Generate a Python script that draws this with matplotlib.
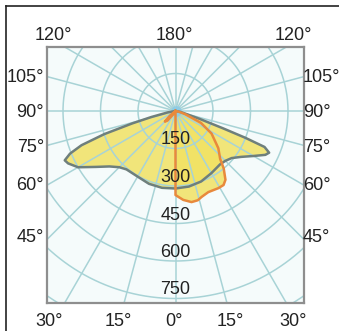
import numpy as np
import matplotlib.pyplot as plt
from matplotlib.lines import Line2D
plt.rcParams['font.family'] = ['Liberation Sans', 'DejaVu Sans']

# C0-C180 plane (grey outline), gamma in degrees (negative = left), intensity cd
gamma_c0 = [-90, -80, -76, -74, -72, -70, -68, -66, -64, -60, -55, -50, -45, -40, -30,
            -20, -10, 0, 10, 20, 30, 40, 45, 50, 55, 60, 64, 66, 68, 69, 70, 72, 80, 90]
cd_c0 = [0, 30, 100, 180, 300, 400, 455, 485, 478, 450, 390, 345, 318, 305, 303,
         310, 312, 310, 307, 300, 287, 278, 282, 293, 320, 360, 400, 410, 384, 300, 200, 100, 20, 0]

# C90-C270 plane (orange outline)
gamma_c90 = [-90, -60, -50, -45, -40, -30, -10, -1, 0, 2, 5, 10, 14, 17, 22, 29, 33, 36,
             40, 43, 49, 58, 65, 72, 80, 90]
cd_c90 = [0, 0, 30, 60, 50, 10, 0, 0, 336, 344, 357, 370, 368, 359, 350, 353, 353, 340,
          300, 262, 227, 170, 112, 40, 10, 0]

ring_values = [150, 300, 450, 600, 750]
left_labels = ['105°', '90°', '75°', '60°', '45°']
left_y = [78, 112, 147, 185, 238]
top_labels = ['120°', '180°', '120°']
top_x = [53, 174, 293]
bottom_labels = ['30°', '15°', '0°', '15°', '30°']
bottom_x = [49, 118, 174, 230, 293]

W, H = 339, 331
fig = plt.figure(figsize=(W / 100, H / 100), dpi=100)
ax = fig.add_axes([47 / W, 1 - 303 / H, 257 / W, 256 / H])
ax.set_facecolor('#f5fbfb')

grid_col = '#a8d3d6'
# rings
t = np.linspace(0, 2 * np.pi, 400)
for r in range(150, 1050, 150):
    ax.plot(r * np.cos(t), r * np.sin(t), color=grid_col, lw=1.1, zorder=2)
# spokes every 15 degrees
for a in range(0, 360, 15):
    ar = np.radians(a)
    ax.plot([0, 1100 * np.sin(ar)], [0, -1100 * np.cos(ar)], color=grid_col, lw=1.1, zorder=2)
ax.scatter([0], [0], s=60, color='#7ec8ee', alpha=0.6, lw=0, zorder=2)


def to_xy(g, v):
    g = np.radians(np.array(g, dtype=float))
    v = np.array(v, dtype=float)
    return v * np.sin(g), -v * np.cos(g)


x0, y0 = to_xy(gamma_c0, cd_c0)
x9, y9 = to_xy(gamma_c90, cd_c90)
ax.fill(x0, y0, color='#f1e263', alpha=0.85, lw=0, zorder=1)
ax.fill(x9, y9, color='#f1e263', alpha=0.85, lw=0, zorder=1)
ax.plot(x0, y0, color='#6e7f7c', lw=1.8, zorder=4)
ax.plot(x9, y9, color='#e8893c', lw=1.8, zorder=4)

for v in ring_values:
    ax.text(0, -v + 34, str(v), ha='center', va='center', fontsize=13, color='#222222', zorder=5)

ax.set_xlim(-514, 514)
ax.set_ylim(-768, 256)
ax.set_xticks([])
ax.set_yticks([])
for s in ax.spines.values():
    s.set_color('#8e8e8e')
    s.set_linewidth(1.6)

fs = 13
for lab, y in zip(left_labels, left_y):
    fig.text(44 / W, 1 - y / H, lab, ha='right', va='center', fontsize=fs, color='#222222')
    fig.text(303 / W, 1 - y / H, lab, ha='left', va='center', fontsize=fs, color='#222222')
for lab, x in zip(top_labels, top_x):
    fig.text(x / W, 1 - 35 / H, lab, ha='center', va='center', fontsize=fs, color='#222222')
for lab, x in zip(bottom_labels, bottom_x):
    fig.text(x / W, 1 - 322 / H, lab, ha='center', va='center', fontsize=fs, color='#222222')

# outer frame (only top and left edges visible)
fig.add_artist(Line2D([6 / W, 6 / W], [0, 1 - 6 / H], color='#222222', lw=1.2))
fig.add_artist(Line2D([6 / W, 1], [1 - 6 / H, 1 - 6 / H], color='#222222', lw=1.2))

fig.savefig('out.png', dpi=100)
